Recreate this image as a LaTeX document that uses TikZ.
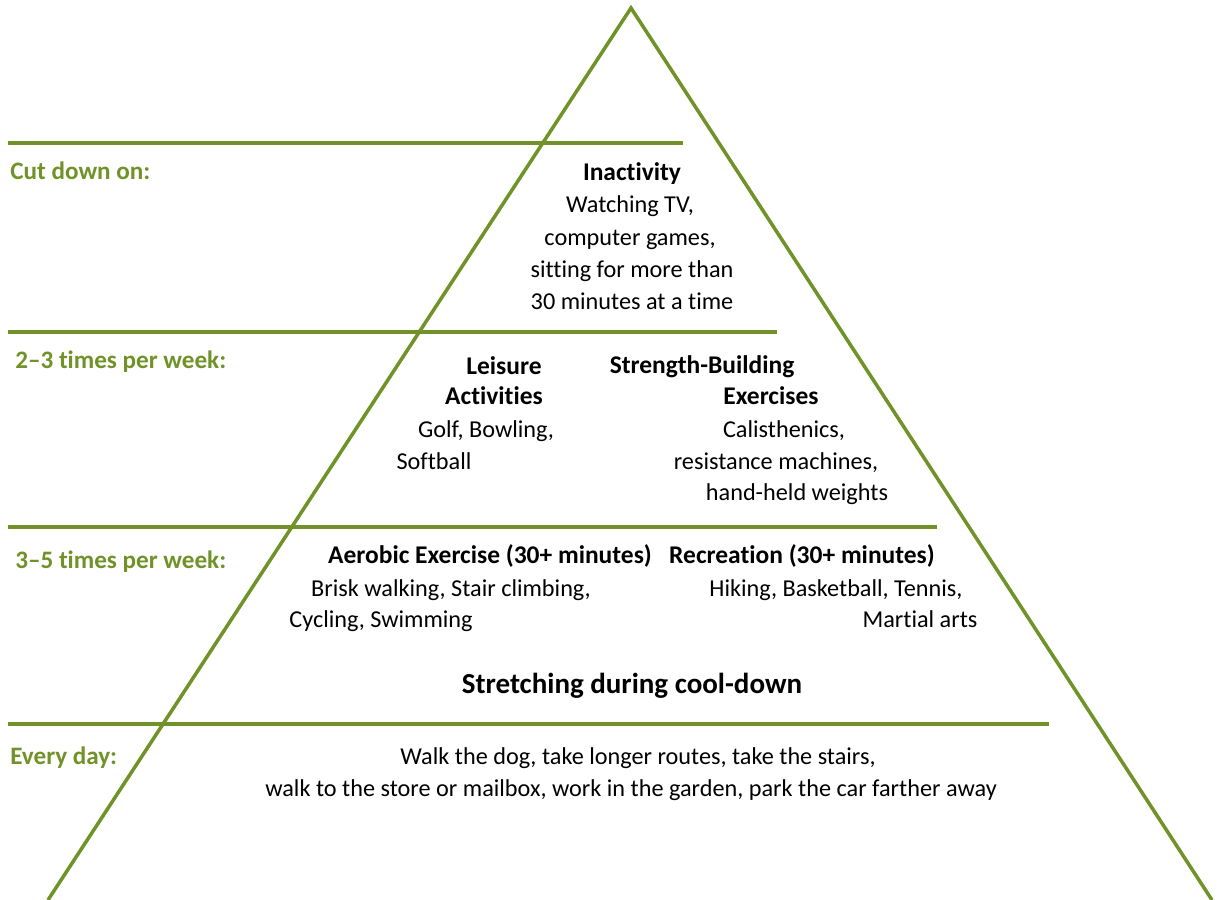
\documentclass[tikz,border=0pt]{standalone}
\usepackage{fontspec}
\setmainfont{Carlito}[RawFeature=-liga]
\definecolor{pyrgreen}{RGB}{112,146,40}

\begin{document}
\begin{tikzpicture}[x=0.02cm,y=-0.02cm,
  band/.style={pyrgreen,line width=2pt},
  lvl/.style={anchor=base west,inner sep=0pt,text=pyrgreen,font=\bfseries\fontsize{14.3}{17}\selectfont},
  txt/.style={anchor=base,inner sep=0pt,font=\fontsize{13.8}{17}\selectfont},
  hd/.style={txt,font=\bfseries\fontsize{14.5}{17}\selectfont}]
\useasboundingbox (0,0) rectangle (1225,900);
% pyramid
\coordinate (top) at (631,8);
\coordinate (bl) at (48,900);
\coordinate (br) at (1212,900);
\draw[band] (bl) -- (top) -- (br);
% level lines
\draw[band] (8,143) -- (683,143);
\draw[band] (8,332) -- (777,332);
\draw[band] (8,527) -- (937,527);
\draw[band] (8,724) -- (1049,724);
% level labels
\node[lvl] (cut) at (10,179) {Cut down on:};
\node[lvl] (two) at (15,368) {2–3 times per week:};
\node[lvl] (three) at (15,568) {3–5 times per week:};
\node[lvl] (every) at (10,764) {Every day:};
% top
\node[hd] (inact) at (632,180) {Inactivity};
\node[txt] (inact1) at (630,212) {Watching TV,};
\node[txt] (inact2) at (630,245) {computer games,};
\node[txt] (inact3) at (632,277) {sitting for more than};
\node[txt] (inact4) at (632,309) {30 minutes at a time};
% 2-3 times
\node[hd] (leis1) at (504,374) {Leisure};
\node[hd] (leis2) at (494,404) {Activities};
\node[txt] (leis3) at (486,437) {Golf, Bowling,};
\node[txt] (leis4) at (434,469) {Softball};
\node[hd] (str1) at (702,373) {Strength-Building};
\node[hd] (str2) at (771,404) {Exercises};
\node[txt] (str3) at (784,437) {Calisthenics,};
\node[txt] (str4) at (776,469) {resistance machines,};
\node[txt] (str5) at (797,500) {hand-held weights};
% 3-5 times
\node[hd] (aer1) at (490,563) {Aerobic Exercise (30+ minutes)};
\node[txt] (aer2) at (451,596) {Brisk walking, Stair climbing,};
\node[txt] (aer3) at (381,627) {Cycling, Swimming};
\node[hd] (rec1) at (802,563) {Recreation (30+ minutes)};
\node[txt] (rec2) at (836,596) {Hiking, Basketball, Tennis,};
\node[txt] (rec3) at (920,627) {Martial arts};
\node[hd,font=\bfseries\fontsize{16.5}{19}\selectfont] (stretch) at (632,693) {Stretching during cool-down};
% every day
\node[txt] (day1) at (638,764) {Walk the dog, take longer routes, take the stairs,};
\node[txt] (day2) at (631,796) {walk to the store or mailbox, work in the garden, park the car farther away};
\end{tikzpicture}
\end{document}
